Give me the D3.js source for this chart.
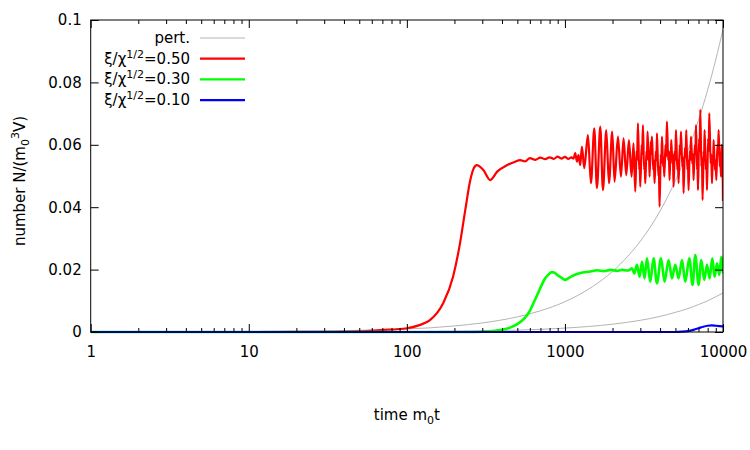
<!DOCTYPE html>
<html>
<head>
<meta charset="utf-8">
<script src="https://cdn.jsdelivr.net/npm/d3@7"></script>
<style>
  body { margin: 0; background: #fff; }
  text { font-family: "DejaVu Sans", sans-serif; font-size: 15px; fill: #000; }
</style>
</head>
<body>
<svg id="chart" width="750" height="450"></svg>
<script>
// tick values
const xTicks = [1, 10, 100, 1000, 10000];
const yTicks = [0, 0.02, 0.04, 0.06, 0.08, 0.1];
const yTickLabels = ["0", "0.02", "0.04", "0.06", "0.08", "0.1"];

// perturbative estimates (gray)
const pertHigh = [[1, 0], [10, 0.0001], [100, 0.00097], [200, 0.00194], [300, 0.0029], [500, 0.00485],
  [700, 0.0068], [1000, 0.0097], [1500, 0.0146], [2000, 0.0194], [2500, 0.0243], [3000, 0.0291],
  [4000, 0.0388], [5000, 0.0485], [6000, 0.0582], [7000, 0.0679], [8000, 0.0776], [9000, 0.0873], [10000, 0.097]];
const pertLow = [[1, 0], [100, 0.000125], [300, 0.0004], [500, 0.0006], [1000, 0.00125], [2000, 0.0025],
  [3000, 0.00375], [4000, 0.005], [5000, 0.0063], [6000, 0.0075], [7000, 0.0088], [8000, 0.01],
  [9000, 0.0113], [10000, 0.0125]];

// xi/chi^1/2 = 0.50
const red = [[1, 0], [10, 0], [30, 0.00005], [50, 0.0002], [68, 0.0006], [100, 0.0012], [120, 0.0022],
  [140, 0.0038], [170, 0.0093], [196, 0.0177], [217, 0.0285], [234, 0.039], [252, 0.0487], [265, 0.0525],
  [277, 0.0535], [304, 0.052], [337, 0.0487], [373, 0.0514], [432, 0.0535], [480, 0.0545], [521, 0.0551],
  [560, 0.0547], [600, 0.0557], [650, 0.0552], [700, 0.0559], [750, 0.0554], [800, 0.056], [850, 0.0555],
  [900, 0.0562], [950, 0.0556], [1000, 0.0561], [1050, 0.0555], [1100, 0.056], [1134, 0.0556],
  [1162, 0.0573], [1191, 0.0546], [1219, 0.0567], [1250, 0.0535], [1281, 0.0594], [1325, 0.0525],
  [1398, 0.0631], [1461, 0.0477], [1533, 0.0653], [1594, 0.0461], [1673, 0.0658], [1740, 0.0455],
  [1826, 0.0647], [1899, 0.0477], [1992, 0.0642], [2060, 0.0482], [2165, 0.0626], [2262, 0.0498],
  [2349, 0.0621], [2443, 0.0503], [2541, 0.0615], [2640, 0.0498], [2717, 0.0605], [2786, 0.045],
  [2840, 0.058], [2860, 0.055], [2897, 0.0669], [2950, 0.052], [2970, 0.055], [2996, 0.0466],
  [3060, 0.06], [3080, 0.057], [3116, 0.0663], [3170, 0.052], [3195, 0.054], [3223, 0.0477],
  [3280, 0.058], [3300, 0.055], [3333, 0.0642], [3380, 0.055], [3400, 0.058], [3431, 0.0498],
  [3490, 0.061], [3510, 0.057], [3553, 0.0626], [3620, 0.052], [3650, 0.055], [3690, 0.0477],
  [3760, 0.058], [3790, 0.055], [3822, 0.0637], [3900, 0.05], [3930, 0.053], [3969, 0.0402],
  [4040, 0.057], [4070, 0.054], [4111, 0.0626], [4180, 0.053], [4210, 0.056], [4251, 0.0498],
  [4330, 0.06], [4360, 0.056], [4421, 0.0674], [4500, 0.055], [4540, 0.058], [4592, 0.0487],
  [4650, 0.058], [4680, 0.056], [4707, 0.0615], [4780, 0.054], [4820, 0.057], [4867, 0.0466],
  [4950, 0.058], [4990, 0.055], [5041, 0.0647], [5140, 0.052], [5190, 0.055], [5236, 0.0477],
  [5330, 0.06], [5370, 0.057], [5422, 0.0642], [5530, 0.053], [5580, 0.056], [5631, 0.0445],
  [5740, 0.059], [5800, 0.056], [5857, 0.0647], [5950, 0.052], [6000, 0.055], [6057, 0.0455],
  [6160, 0.058], [6210, 0.055], [6273, 0.0626], [6390, 0.054], [6450, 0.057], [6515, 0.0487],
  [6630, 0.06], [6690, 0.057], [6747, 0.0663], [6850, 0.052], [6900, 0.055], [6946, 0.0455],
  [7060, 0.062], [7120, 0.058], [7184, 0.0712], [7300, 0.053], [7360, 0.056], [7428, 0.0423],
  [7540, 0.058], [7590, 0.055], [7648, 0.0647], [7780, 0.052], [7850, 0.055], [7920, 0.0455],
  [8050, 0.062], [8120, 0.058], [8190, 0.0701], [8350, 0.054], [8430, 0.057], [8518, 0.0477],
  [8620, 0.057], [8670, 0.054], [8720, 0.0615], [8890, 0.052], [8980, 0.055], [9070, 0.0487],
  [9220, 0.06], [9300, 0.057], [9379, 0.0647], [9540, 0.053], [9620, 0.056], [9713, 0.0498],
  [9800, 0.06], [9900, 0.0583], [10000, 0.042]];

// xi/chi^1/2 = 0.30
const green = [[1, 0], [100, 0], [250, 0], [300, 0.0001], [350, 0.0003], [400, 0.0007], [450, 0.0014],
  [500, 0.0025], [550, 0.0042], [600, 0.0068], [633, 0.0093], [670, 0.012], [715, 0.0152], [750, 0.0172],
  [787, 0.0184], [827, 0.0192], [860, 0.019], [890, 0.0184], [950, 0.0174], [1000, 0.0167], [1050, 0.0172],
  [1100, 0.0178], [1250, 0.0189], [1450, 0.0194], [1600, 0.0198], [1760, 0.0195], [1950, 0.0199],
  [2150, 0.0196], [2300, 0.0199], [2490, 0.0197],
  [2560, 0.0199], [2655, 0.0204], [2745, 0.0188], [2856, 0.0215], [2966, 0.0177], [3071, 0.0225],
  [3190, 0.0172], [3304, 0.0236], [3466, 0.0161], [3637, 0.0236], [3822, 0.0156], [4051, 0.0236],
  [4270, 0.0161], [4526, 0.0231], [4756, 0.0172], [4990, 0.0215], [5236, 0.0172], [5502, 0.0231],
  [5772, 0.0161], [6119, 0.0236], [6421, 0.0151], [6678, 0.0247], [7007, 0.0151], [7289, 0.0231],
  [7614, 0.0167], [7920, 0.0215], [8226, 0.0172], [8556, 0.0236], [8848, 0.0177], [9162, 0.022],
  [9475, 0.0183], [9755, 0.0241], [10000, 0.0188]];

// xi/chi^1/2 = 0.10
const blue = [[1, 0], [1000, 0], [5000, 0], [5500, 0.0001], [6000, 0.0003], [6500, 0.0007], [7000, 0.0012],
  [7500, 0.0017], [8000, 0.002], [8500, 0.0021], [9000, 0.002], [9500, 0.0019], [10000, 0.0018]];

const legendLabels = ["0.50", "0.30", "0.10"];

const dims = { left: 90.7, right: 723, top: 20, bottom: 332 };

const svg = d3.select("#chart");

const x = d3.scaleLog().domain([1, 10000]).range([dims.left, dims.right]);
const y = d3.scaleLinear().domain([0, 0.1]).range([dims.bottom, dims.top]);

// clip to the frame, but let lines lying on the axis show fully
svg.append("defs").append("clipPath").attr("id", "plot")
  .append("rect")
  .attr("x", dims.left).attr("y", dims.top)
  .attr("width", dims.right - dims.left).attr("height", dims.bottom - dims.top + 2);

const line = d3.line()
  .x(d => x(d[0]))
  .y(d => y(d[1]))
  .curve(d3.curveMonotoneX);

const curves = svg.append("g").attr("clip-path", "url(#plot)");

const series = [
  { data: pertHigh, color: "#b4b4b4", width: 1 },
  { data: pertLow, color: "#b4b4b4", width: 1 },
  { data: red, color: "#ff0000", width: 2.2 },
  { data: green, color: "#00ff00", width: 2.6 },
  { data: blue, color: "#0000ff", width: 2.2 }
];

series.forEach(s => {
  curves.append("path")
    .datum(s.data)
    .attr("fill", "none")
    .attr("stroke", s.color)
    .attr("stroke-width", s.width)
    .attr("stroke-linejoin", "round")
    .attr("d", line);
});

// minor ticks for log axis
const minorTicks = [];
for (let dec = 1; dec < 10000; dec *= 10) {
  for (let m = 2; m <= 9; m++) minorTicks.push(dec * m);
}

function styleAxis(g) {
  g.select(".domain").remove();
  g.selectAll(".tick line").attr("stroke", "#000");
  g.selectAll(".tick text").attr("fill", "#000").style("font-size", "15px");
}

// bottom
svg.append("g")
  .attr("transform", `translate(0,${dims.bottom})`)
  .call(d3.axisBottom(x).tickValues(xTicks).tickFormat(d3.format("d")).tickSize(-8).tickPadding(14))
  .call(styleAxis);
svg.append("g")
  .attr("transform", `translate(0,${dims.bottom})`)
  .call(d3.axisBottom(x).tickValues(minorTicks).tickFormat("").tickSize(-4))
  .call(styleAxis);

// top mirror
svg.append("g")
  .attr("transform", `translate(0,${dims.top})`)
  .call(d3.axisTop(x).tickValues(xTicks).tickFormat("").tickSize(-8))
  .call(styleAxis);
svg.append("g")
  .attr("transform", `translate(0,${dims.top})`)
  .call(d3.axisTop(x).tickValues(minorTicks).tickFormat("").tickSize(-4))
  .call(styleAxis);

// left
svg.append("g")
  .attr("transform", `translate(${dims.left},0)`)
  .call(d3.axisLeft(y).tickValues(yTicks).tickFormat((d, i) => yTickLabels[i]).tickSize(-8).tickPadding(9))
  .call(styleAxis);

// right mirror
svg.append("g")
  .attr("transform", `translate(${dims.right},0)`)
  .call(d3.axisRight(y).tickValues(yTicks).tickFormat("").tickSize(-8))
  .call(styleAxis);

// border
svg.append("rect")
  .attr("x", dims.left).attr("y", dims.top)
  .attr("width", dims.right - dims.left).attr("height", dims.bottom - dims.top)
  .attr("fill", "none").attr("stroke", "#000").attr("stroke-width", 1);

// axis labels
const xl = svg.append("text")
  .attr("x", (dims.left + dims.right) / 2)
  .attr("y", 420)
  .attr("text-anchor", "middle");
xl.append("tspan").text("time m");
xl.append("tspan").attr("dy", 4).style("font-size", "11px").text("0");
xl.append("tspan").attr("dy", -4).text("t");

const yl = svg.append("text")
  .attr("transform", `translate(25,${(dims.top + dims.bottom) / 2 + 5}) rotate(-90)`)
  .attr("text-anchor", "middle");
yl.append("tspan").text("number N/(m");
yl.append("tspan").attr("dy", 4).style("font-size", "11px").text("0");
yl.append("tspan").attr("dy", -10).style("font-size", "11px").text("3");
yl.append("tspan").attr("dy", 6).text("V)");

// legend
const legend = svg.append("g");
const legendRows = [
  { color: "#b4b4b4", width: 1, label: null },
  { color: "#ff0000", width: 2.2, label: legendLabels[0] },
  { color: "#00ff00", width: 2.2, label: legendLabels[1] },
  { color: "#0000ff", width: 2.2, label: legendLabels[2] }
];
legendRows.forEach((r, i) => {
  const yy = 38 + i * 20.7;
  legend.append("line")
    .attr("x1", 200).attr("x2", 245)
    .attr("y1", yy).attr("y2", yy)
    .attr("stroke", r.color).attr("stroke-width", r.width);
  const t = legend.append("text")
    .attr("x", 190).attr("y", yy + 5)
    .attr("text-anchor", "end");
  if (r.label === null) {
    t.text("pert.");
  } else {
    t.append("tspan").text("ξ/χ");
    t.append("tspan").attr("dy", -6).style("font-size", "11px").text("1/2");
    t.append("tspan").attr("dy", 6).text("=" + r.label);
  }
});
</script>
</body>
</html>
